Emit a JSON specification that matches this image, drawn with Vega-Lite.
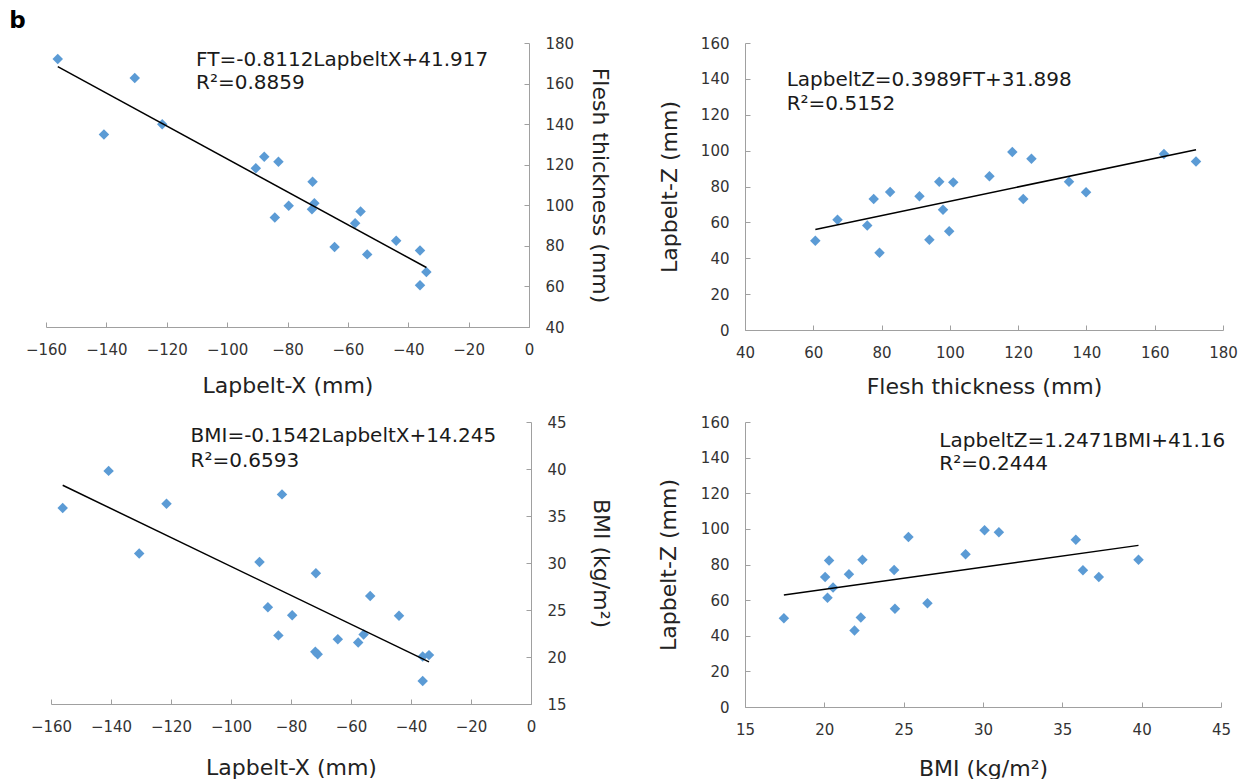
{
  "$schema": "https://vega.github.io/schema/vega-lite/v6.json",
  "background": "white",
  "autosize": {"type": "pad"},
  "padding": {"left": 9, "top": 9, "right": 0, "bottom": 0},
  "config": {
    "view": {"stroke": null},
    "font": "DejaVu Sans",
    "axis": {
      "grid": false,
      "domainColor": "#a0a0a0",
      "tickColor": "#a0a0a0",
      "tickSize": -5,
      "labelFont": "DejaVu Sans",
      "labelFontSize": 15,
      "labelColor": "#333333",
      "labelFlush": false,
      "labelOverlap": false,
      "labelPadding": 21,
      "titleFont": "DejaVu Sans",
      "titleFontSize": 22,
      "titleFontWeight": "normal",
      "titleColor": "#222222",
      "titlePadding": 14
    },
    "axisX": {"labelPadding": 20, "titlePadding": 16}
  },
  "datasets": {
    "d": [
      {"X": -156.1, "FT": 172.1, "BMI": 35.85, "Z": 93.9},
      {"X": -140.8, "FT": 134.9, "BMI": 39.8, "Z": 82.6},
      {"X": -130.6, "FT": 162.7, "BMI": 31.0, "Z": 98.1},
      {"X": -121.5, "FT": 139.9, "BMI": 36.3, "Z": 76.8},
      {"X": -90.5, "FT": 118.3, "BMI": 30.1, "Z": 99.2},
      {"X": -87.7, "FT": 123.9, "BMI": 25.3, "Z": 95.5},
      {"X": -83.0, "FT": 121.5, "BMI": 37.3, "Z": 73.0},
      {"X": -84.2, "FT": 94.0, "BMI": 22.3, "Z": 50.3},
      {"X": -79.6, "FT": 99.8, "BMI": 24.45, "Z": 55.1},
      {"X": -71.7, "FT": 111.6, "BMI": 28.9, "Z": 85.7},
      {"X": -71.1, "FT": 101.0, "BMI": 20.3, "Z": 82.3},
      {"X": -71.9, "FT": 98.0, "BMI": 20.55, "Z": 67.1},
      {"X": -64.4, "FT": 79.4, "BMI": 21.9, "Z": 43.0},
      {"X": -57.6, "FT": 91.1, "BMI": 21.55, "Z": 74.5},
      {"X": -55.8, "FT": 96.9, "BMI": 22.4, "Z": 82.6},
      {"X": -53.6, "FT": 75.8, "BMI": 26.5, "Z": 58.3},
      {"X": -44.0, "FT": 82.5, "BMI": 24.4, "Z": 76.9},
      {"X": -36.1, "FT": 77.7, "BMI": 20.05, "Z": 73.0},
      {"X": -36.1, "FT": 60.6, "BMI": 17.45, "Z": 49.8},
      {"X": -34.0, "FT": 67.1, "BMI": 20.2, "Z": 61.4}
    ]
  },
  "columns": 2,
  "align": "all",
  "spacing": {"row": 15, "column": 45},
  "concat": [
    {
      "width": 483,
      "height": 284,
      "layer": [
        {
          "data": {"name": "d"},
          "mark": {"type": "point", "shape": "diamond", "filled": true, "size": 110, "color": "#5b9bd5", "opacity": 1},
          "encoding": {
            "x": {"field": "X", "type": "quantitative", "scale": {"domain": [-160, 0], "nice": false, "zero": false},
                  "axis": {"orient": "bottom", "values": [-160, -140, -120, -100, -80, -60, -40, -20, 0], "tickCount": 20, "labelOverlap": false, "title": "Lapbelt-X (mm)", "titlePadding": 18}},
            "y": {"field": "FT", "type": "quantitative", "scale": {"domain": [40, 180], "nice": false, "zero": false},
                  "axis": {"orient": "right", "values": [40, 60, 80, 100, 120, 140, 160, 180], "tickCount": 20, "labelOverlap": false, "title": "Flesh thickness (mm)", "titlePadding": 14}}
          }
        },
        {
          "data": {"name": "d"},
          "transform": [{"regression": "FT", "on": "X"}],
          "mark": {"type": "line", "color": "#000000", "strokeWidth": 1.5},
          "encoding": {
            "x": {"field": "X", "type": "quantitative", "scale": {"domain": [-160, 0], "nice": false, "zero": false}},
            "y": {"field": "FT", "type": "quantitative", "scale": {"domain": [40, 180], "nice": false, "zero": false}}
          }
        },
        {
          "data": {"values": [{}]},
          "mark": {"type": "text", "align": "left", "baseline": "middle", "fontSize": 20, "color": "#1a1a1a"},
          "encoding": {
            "x": {"datum": -110.3, "type": "quantitative"},
            "y": {"datum": 171.6, "type": "quantitative"},
            "text": {"value": "FT=-0.8112LapbeltX+41.917"}
          }
        },
        {
          "data": {"values": [{}]},
          "mark": {"type": "text", "align": "left", "baseline": "middle", "fontSize": 20, "color": "#1a1a1a"},
          "encoding": {
            "x": {"datum": -110.3, "type": "quantitative"},
            "y": {"datum": 160.2, "type": "quantitative"},
            "text": {"value": "R²=0.8859"}
          }
        },
        {
          "data": {"values": [{}]},
          "mark": {"type": "text", "align": "left", "baseline": "alphabetic", "fontSize": 23, "fontWeight": "bold", "color": "#000000"},
          "encoding": {
            "x": {"datum": -172.2, "type": "quantitative"},
            "y": {"datum": 187.4, "type": "quantitative"},
            "text": {"value": "b"}
          }
        }
      ]
    },
    {
      "width": 478,
      "height": 287,
      "layer": [
        {
          "data": {"name": "d"},
          "mark": {"type": "point", "shape": "diamond", "filled": true, "size": 110, "color": "#5b9bd5", "opacity": 1},
          "encoding": {
            "x": {"field": "FT", "type": "quantitative", "scale": {"domain": [40, 180], "nice": false, "zero": false},
                  "axis": {"orient": "bottom", "values": [40, 60, 80, 100, 120, 140, 160, 180], "tickCount": 20, "labelOverlap": false, "title": "Flesh thickness (mm)"}},
            "y": {"field": "Z", "type": "quantitative", "scale": {"domain": [0, 160], "nice": false, "zero": false},
                  "axis": {"orient": "left", "values": [0, 20, 40, 60, 80, 100, 120, 140, 160], "tickCount": 20, "labelOverlap": false, "title": "Lapbelt-Z (mm)", "titlePadding": 19}}
          }
        },
        {
          "data": {"name": "d"},
          "transform": [{"regression": "Z", "on": "FT"}],
          "mark": {"type": "line", "color": "#000000", "strokeWidth": 1.5},
          "encoding": {
            "x": {"field": "FT", "type": "quantitative", "scale": {"domain": [40, 180], "nice": false, "zero": false}},
            "y": {"field": "Z", "type": "quantitative", "scale": {"domain": [0, 160], "nice": false, "zero": false}}
          }
        },
        {
          "data": {"values": [{}]},
          "mark": {"type": "text", "align": "left", "baseline": "middle", "fontSize": 20, "color": "#1a1a1a"},
          "encoding": {
            "x": {"datum": 52.2, "type": "quantitative"},
            "y": {"datum": 139.2, "type": "quantitative"},
            "text": {"value": "LapbeltZ=0.3989FT+31.898"}
          }
        },
        {
          "data": {"values": [{}]},
          "mark": {"type": "text", "align": "left", "baseline": "middle", "fontSize": 20, "color": "#1a1a1a"},
          "encoding": {
            "x": {"datum": 52.2, "type": "quantitative"},
            "y": {"datum": 125.8, "type": "quantitative"},
            "text": {"value": "R²=0.5152"}
          }
        }
      ]
    },
    {
      "width": 485,
      "height": 282,
      "layer": [
        {
          "data": {"name": "d"},
          "mark": {"type": "point", "shape": "diamond", "filled": true, "size": 110, "color": "#5b9bd5", "opacity": 1},
          "encoding": {
            "x": {"field": "X", "type": "quantitative", "scale": {"domain": [-160, 0], "nice": false, "zero": false, "rangeMin": 5},
                  "axis": {"orient": "bottom", "values": [-160, -140, -120, -100, -80, -60, -40, -20, 0], "tickCount": 20, "labelOverlap": false, "title": "Lapbelt-X (mm)", "titlePadding": 23}},
            "y": {"field": "BMI", "type": "quantitative", "scale": {"domain": [15, 45], "nice": false, "zero": false},
                  "axis": {"orient": "right", "values": [15, 20, 25, 30, 35, 40, 45], "tickCount": 20, "labelOverlap": false, "title": "BMI (kg/m²)", "titlePadding": 22}}
          }
        },
        {
          "data": {"name": "d"},
          "transform": [{"regression": "BMI", "on": "X"}],
          "mark": {"type": "line", "color": "#000000", "strokeWidth": 1.5},
          "encoding": {
            "x": {"field": "X", "type": "quantitative", "scale": {"domain": [-160, 0], "nice": false, "zero": false, "rangeMin": 5}},
            "y": {"field": "BMI", "type": "quantitative", "scale": {"domain": [15, 45], "nice": false, "zero": false}}
          }
        },
        {
          "data": {"values": [{}]},
          "mark": {"type": "text", "align": "left", "baseline": "middle", "fontSize": 20, "color": "#1a1a1a"},
          "encoding": {
            "x": {"datum": -113.5, "type": "quantitative"},
            "y": {"datum": 43.54, "type": "quantitative"},
            "text": {"value": "BMI=-0.1542LapbeltX+14.245"}
          }
        },
        {
          "data": {"values": [{}]},
          "mark": {"type": "text", "align": "left", "baseline": "middle", "fontSize": 20, "color": "#1a1a1a"},
          "encoding": {
            "x": {"datum": -113.5, "type": "quantitative"},
            "y": {"datum": 40.87, "type": "quantitative"},
            "text": {"value": "R²=0.6593"}
          }
        }
      ]
    },
    {
      "width": 476,
      "height": 285,
      "layer": [
        {
          "data": {"name": "d"},
          "mark": {"type": "point", "shape": "diamond", "filled": true, "size": 110, "color": "#5b9bd5", "opacity": 1},
          "encoding": {
            "x": {"field": "BMI", "type": "quantitative", "scale": {"domain": [15, 45], "nice": false, "zero": false},
                  "axis": {"orient": "bottom", "values": [15, 20, 25, 30, 35, 40, 45], "tickCount": 20, "labelOverlap": false, "title": "BMI (kg/m²)", "titlePadding": 21}},
            "y": {"field": "Z", "type": "quantitative", "scale": {"domain": [0, 160], "nice": false, "zero": false},
                  "axis": {"orient": "left", "values": [0, 20, 40, 60, 80, 100, 120, 140, 160], "tickCount": 20, "labelOverlap": false, "title": "Lapbelt-Z (mm)", "titlePadding": 20}}
          }
        },
        {
          "data": {"name": "d"},
          "transform": [{"regression": "Z", "on": "BMI"}],
          "mark": {"type": "line", "color": "#000000", "strokeWidth": 1.5},
          "encoding": {
            "x": {"field": "BMI", "type": "quantitative", "scale": {"domain": [15, 45], "nice": false, "zero": false}},
            "y": {"field": "Z", "type": "quantitative", "scale": {"domain": [0, 160], "nice": false, "zero": false}}
          }
        },
        {
          "data": {"values": [{}]},
          "mark": {"type": "text", "align": "left", "baseline": "middle", "fontSize": 20, "color": "#1a1a1a"},
          "encoding": {
            "x": {"datum": 27.25, "type": "quantitative"},
            "y": {"datum": 149.5, "type": "quantitative"},
            "text": {"value": "LapbeltZ=1.2471BMI+41.16"}
          }
        },
        {
          "data": {"values": [{}]},
          "mark": {"type": "text", "align": "left", "baseline": "middle", "fontSize": 20, "color": "#1a1a1a"},
          "encoding": {
            "x": {"datum": 27.25, "type": "quantitative"},
            "y": {"datum": 136.4, "type": "quantitative"},
            "text": {"value": "R²=0.2444"}
          }
        }
      ]
    }
  ]
}
